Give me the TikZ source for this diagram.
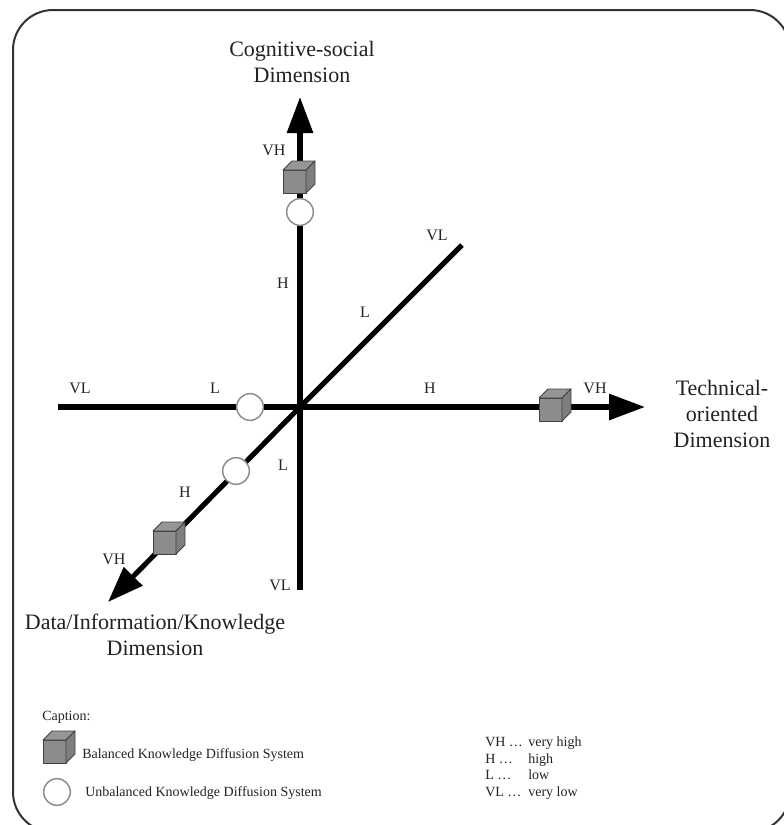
\documentclass[tikz,border=0pt]{standalone}
\usepackage{fontspec}
\setmainfont{Liberation Serif}
\usetikzlibrary{arrows.meta}
\definecolor{cubefront}{HTML}{8C8C8C}
\definecolor{cubetop}{HTML}{969696}
\definecolor{cubeside}{HTML}{7E7E7E}
\definecolor{inkgray}{HTML}{222222}

\begin{document}
\begin{tikzpicture}[x=0.75pt,y=-0.75pt,
  axisline/.style={line width=3.8pt, draw=black},
  axisarrow/.style={axisline, -{Triangle[length=27pt,width=19pt]}},
  lvl/.style={font=\fontsize{12}{14}\selectfont, text=inkgray, inner sep=0pt},
  dimtitle/.style={font=\fontsize{16.5}{19.5}\selectfont, align=center, text=inkgray, inner sep=0pt},
  legtext/.style={font=\fontsize{10.5}{12.5}\selectfont, text=inkgray, inner sep=0pt, anchor=west},
  unbal/.style={circle, draw=black!45, line width=1.1pt, fill=white, minimum size=20pt, inner sep=0pt},
  frame/.style={draw=black!80, line width=1.5pt, rounded corners=30pt},
  cube/.pic={
    \filldraw[fill=cubefront, draw=black!75, line width=0.7pt, line join=round]
      (-16,-7) rectangle (7,16);
    \filldraw[fill=cubetop, draw=black!75, line width=0.7pt, line join=round]
      (-16,-7) -- (7,-7) -- (16,-16) -- (-7,-16) -- cycle;
    \filldraw[fill=cubeside, draw=black!75, line width=0.7pt, line join=round]
      (7,-7) -- (16,-16) -- (16,7) -- (7,16) -- cycle;
  }
]
\useasboundingbox (0,0) rectangle (783,825);

% outer frame (runs past the right and bottom edges)
\draw[frame] (13,10) rectangle (790,832);

% axis end points
\coordinate (O)  at (300,407);
\coordinate (xL) at (58,407);
\coordinate (xR) at (645,407);
\coordinate (yB) at (300,590);
\coordinate (yT) at (300,97);
\coordinate (dU) at (462,245);
\coordinate (dL) at (108,602);

% the three axes
\draw[axisarrow] (xL) -- (xR);
\draw[axisarrow] (yB) -- (yT);
\draw[axisarrow] (dU) -- (O) -- (dL);

% axis titles
\node[dimtitle] (tcog)  at (302,62)  {Cognitive-social\\Dimension};
\node[dimtitle] (ttech) at (722,414) {Technical-\\oriented\\Dimension};
\node[dimtitle] (tdata) at (155,635) {Data/Information/Knowledge\\Dimension};

% level marks: vertical axis
\node[lvl] (vVH) at (274,150) {VH};
\node[lvl] (vH)  at (283,283) {H};
\node[lvl] (vL)  at (283,465) {L};
\node[lvl] (vVL) at (280,585) {VL};
% level marks: horizontal axis
\node[lvl] (hVL) at (80,388)  {VL};
\node[lvl] (hL)  at (215,388) {L};
\node[lvl] (hH)  at (430,388) {H};
\node[lvl] (hVH) at (595,388) {VH};
% level marks: diagonal axis
\node[lvl] (dVL) at (437,235) {VL};
\node[lvl] (dLl) at (365,312) {L};
\node[lvl] (dH)  at (185,492) {H};
\node[lvl] (dVH) at (114,559) {VH};

% balanced systems (cubes) and unbalanced systems (circles)
\pic at (299,177) {cube};
\pic at (555,405) {cube};
\pic at (169,538) {cube};
\node[unbal] (uV) at (300,212) {};
\node[unbal] (uH) at (250,407) {};
\node[unbal] (uD) at (236,471) {};

% caption
\node[legtext] (cap) at (42,717) {Caption:};
\pic at (59,747) {cube};
\node[legtext] (capB) at (82,755) {Balanced Knowledge Diffusion System};
\node[unbal] (capC) at (57,792) {};
\node[legtext] (capU) at (85,793) {Unbalanced Knowledge Diffusion System};

% abbreviation key
\node[anchor=north west, inner sep=0pt, font=\fontsize{10.5}{12.4}\selectfont, text=inkgray] (key) at (485,735)
  {\begin{tabular}{@{}l@{\hspace{4pt}}l@{}}
    VH … & very high\\
    H …  & high\\
    L …  & low\\
    VL … & very low
  \end{tabular}};
\end{tikzpicture}
\end{document}
